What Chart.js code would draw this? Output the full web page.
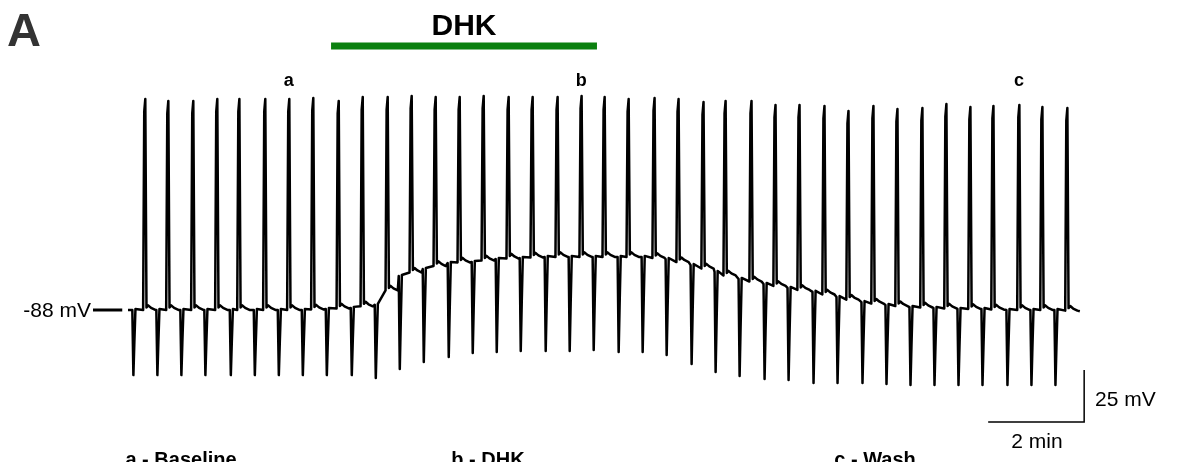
<!DOCTYPE html>
<html>
<head>
<meta charset="utf-8">
<title>DHK trace</title>
<script src="https://cdn.jsdelivr.net/npm/chart.js@4.4.1/dist/chart.umd.min.js"></script>
<style>
  html, body { margin: 0; padding: 0; background: #fff; }
  #wrap { width: 1178px; height: 462px; position: relative; }
</style>
</head>
<body>
<div id="wrap"><canvas id="traceChart"></canvas></div>
<script>
// times in min from start of recording, voltages in mV
var stimTimes = [0.12, 0.62, 1.12, 1.62, 2.15, 2.65, 3.15, 3.65, 4.15, 4.67,
  5.17, 5.67, 6.17, 6.69, 7.19, 7.69, 8.19, 8.71, 9.21, 9.71,
  10.23, 10.73, 11.23, 11.75, 12.25, 12.75, 13.27, 13.77, 14.29, 14.79,
  15.31, 15.81, 16.31, 16.81, 17.31, 17.81, 18.33, 18.83, 19.33];
var troughMv = [-119.3, -119.3, -119.3, -119.3, -119.3, -119.3, -119.3, -119.3, -119.3, -119.3,
  -120.7, -116.4, -113.0, -110.6, -108.7, -108.2, -107.7, -107.7, -107.7, -107.2,
  -108.2, -108.2, -109.6, -114.0, -117.8, -119.7, -121.2, -121.7, -123.1, -123.1,
  -123.1, -123.6, -124.1, -124.1, -124.1, -124.1, -124.1, -124.1, -124.1];
var baseMv = [-88, -88, -88, -88, -88, -88, -88, -88, -87.5, -87.0,
  -85.5, -71.7, -68.3, -65.4, -64.9, -63.5, -63.0, -62.5, -62.5, -62.5,
  -62.5, -62.5, -63.5, -66.4, -69.7, -73.1, -75.5, -77.4, -79.3, -81.8,
  -84.2, -85.6, -86.6, -87.0, -87.5, -87.5, -88, -88, -88];
var spikeTimes = [0.35, 0.83, 1.35, 1.85, 2.31, 2.85, 3.35, 3.85, 4.38, 4.88,
  5.40, 5.90, 6.40, 6.90, 7.40, 7.92, 8.42, 8.94, 9.44, 9.92,
  10.42, 10.96, 11.46, 11.98, 12.44, 12.98, 13.48, 13.98, 14.50, 15.00,
  15.52, 16.02, 16.54, 17.04, 17.54, 18.02, 18.56, 19.04, 19.56];
var peakMv = [13.4, 12.5, 12.5, 13.4, 13.4, 13.4, 13.4, 13.9, 12.5, 14.4,
  14.4, 14.9, 14.4, 14.4, 14.9, 14.4, 14.4, 14.4, 14.9, 14.4,
  13.4, 13.9, 13.4, 12.0, 12.5, 12.5, 10.6, 10.6, 10.1, 7.7,
  10.1, 8.6, 9.1, 11.0, 9.6, 10.1, 10.6, 9.6, 9.1];
var traceEnd = 19.83;
var endMv = -88.6;
var restingMv = -88;
var dhkOn = 4.23;
var dhkOff = 9.77;
var markIdx = [6, 18, 36];
var markNames = ["a", "b", "c"];
var panelNames = ["a - Baseline", "b - DHK", "c - Wash"];

// build the trace: stimulus artifact, then spike with a small after-hump
var trace = [{ x: 0, y: baseMv[0] }];
for (var i = 0; i < stimTimes.length; i++) {
  var b = baseMv[i];
  var bNext = i + 1 < baseMv.length ? baseMv[i + 1] : endMv;
  var bMid = (b + bNext) / 2;
  var td = stimTimes[i];
  var tu = spikeTimes[i];
  trace.push({ x: td - 0.03, y: b });
  trace.push({ x: td - 0.008, y: troughMv[i] });
  trace.push({ x: td + 0.012, y: (b + troughMv[i]) / 2 });
  trace.push({ x: td + 0.035, y: b + 0.5 });
  trace.push({ x: tu - 0.035, y: bMid });
  trace.push({ x: tu - 0.012, y: peakMv[i] - 6 });
  trace.push({ x: tu + 0.01, y: peakMv[i] });
  trace.push({ x: tu + 0.035, y: bMid + 1.2 });
  trace.push({ x: tu + 0.07, y: bMid + 2.2 });
  trace.push({ x: tu + 0.13, y: bMid + 1 });
  trace.push({ x: tu + 0.22, y: bMid });
}
trace.push({ x: traceEnd, y: endMv });

// scale bars: 25 mV and 2 min, anchored lower right
var barT = 19.92, barV = -141.8;
var figText = {
  id: "figText",
  afterDatasetsDraw: function (chart) {
    var ctx = chart.ctx;
    var xs = chart.scales.x;
    var font = "'Liberation Sans', Arial, sans-serif";
    ctx.save();
    ctx.textBaseline = "alphabetic";
    ctx.fillStyle = "#333";
    ctx.textAlign = "left";
    ctx.font = "bold 47px " + font;
    ctx.fillText("A", 7, 46);

    ctx.fillStyle = "#000";
    ctx.textAlign = "center";
    ctx.font = "bold 30px " + font;
    ctx.fillText("DHK", (xs.getPixelForValue(dhkOn) + xs.getPixelForValue(dhkOff)) / 2, 35);

    ctx.font = "bold 18px " + font;
    markIdx.forEach(function (k, j) {
      ctx.fillText(markNames[j], xs.getPixelForValue(spikeTimes[k]), 86);
    });

    ctx.font = "bold 20px " + font;
    ctx.fillText(panelNames[0], 181, 466);
    ctx.fillText(panelNames[1], 488, 466);
    ctx.fillText(panelNames[2], 875, 466);

    ctx.textBaseline = "middle";
    ctx.font = "21px " + font;
    ctx.textAlign = "right";
    ctx.fillText(restingMv + " mV", 91, 311);
    ctx.textAlign = "center";
    ctx.fillText("2 min", 1037, 442);
    ctx.textAlign = "left";
    ctx.fillText("25 mV", 1095, 400);
    ctx.restore();
  }
};

var ctx = document.getElementById("traceChart").getContext("2d");
var traceChart = new Chart(ctx, {
  type: "scatter",
  data: {
    datasets: [
      {
        label: "Vm",
        data: trace,
        showLine: true,
        borderColor: "#000",
        borderWidth: 2.5,
        borderJoinStyle: "round",
        pointRadius: 0,
        tension: 0,
      },
      {
        label: "DHK",
        data: [{ x: dhkOn, y: 38.9 }, { x: dhkOff, y: 38.9 }],
        showLine: true,
        borderColor: "#0b800f",
        borderWidth: 7,
        borderCapStyle: "butt",
        pointRadius: 0,
      },
      {
        label: "rest",
        data: [{ x: -0.73, y: restingMv }, { x: -0.12, y: restingMv }],
        showLine: true,
        borderColor: "#000",
        borderWidth: 3,
        pointRadius: 0,
      },
      {
        label: "scale",
        data: [{ x: barT, y: barV + 25 }, { x: barT, y: barV }, { x: barT - 2, y: barV }],
        showLine: true,
        borderColor: "#000",
        borderWidth: 1.5,
        pointRadius: 0,
      },
    ],
  },
  options: {
    responsive: true,
    maintainAspectRatio: false,
    animation: false,
    layout: { padding: 0 },
    plugins: {
      legend: { display: false },
      tooltip: { enabled: false },
    },
    scales: {
      x: { type: "linear", min: -2.667, max: 21.875, display: false },
      y: { type: "linear", min: -161.08, max: 61.04, display: false },
    },
  },
  plugins: [figText],
});
</script>
</body>
</html>
